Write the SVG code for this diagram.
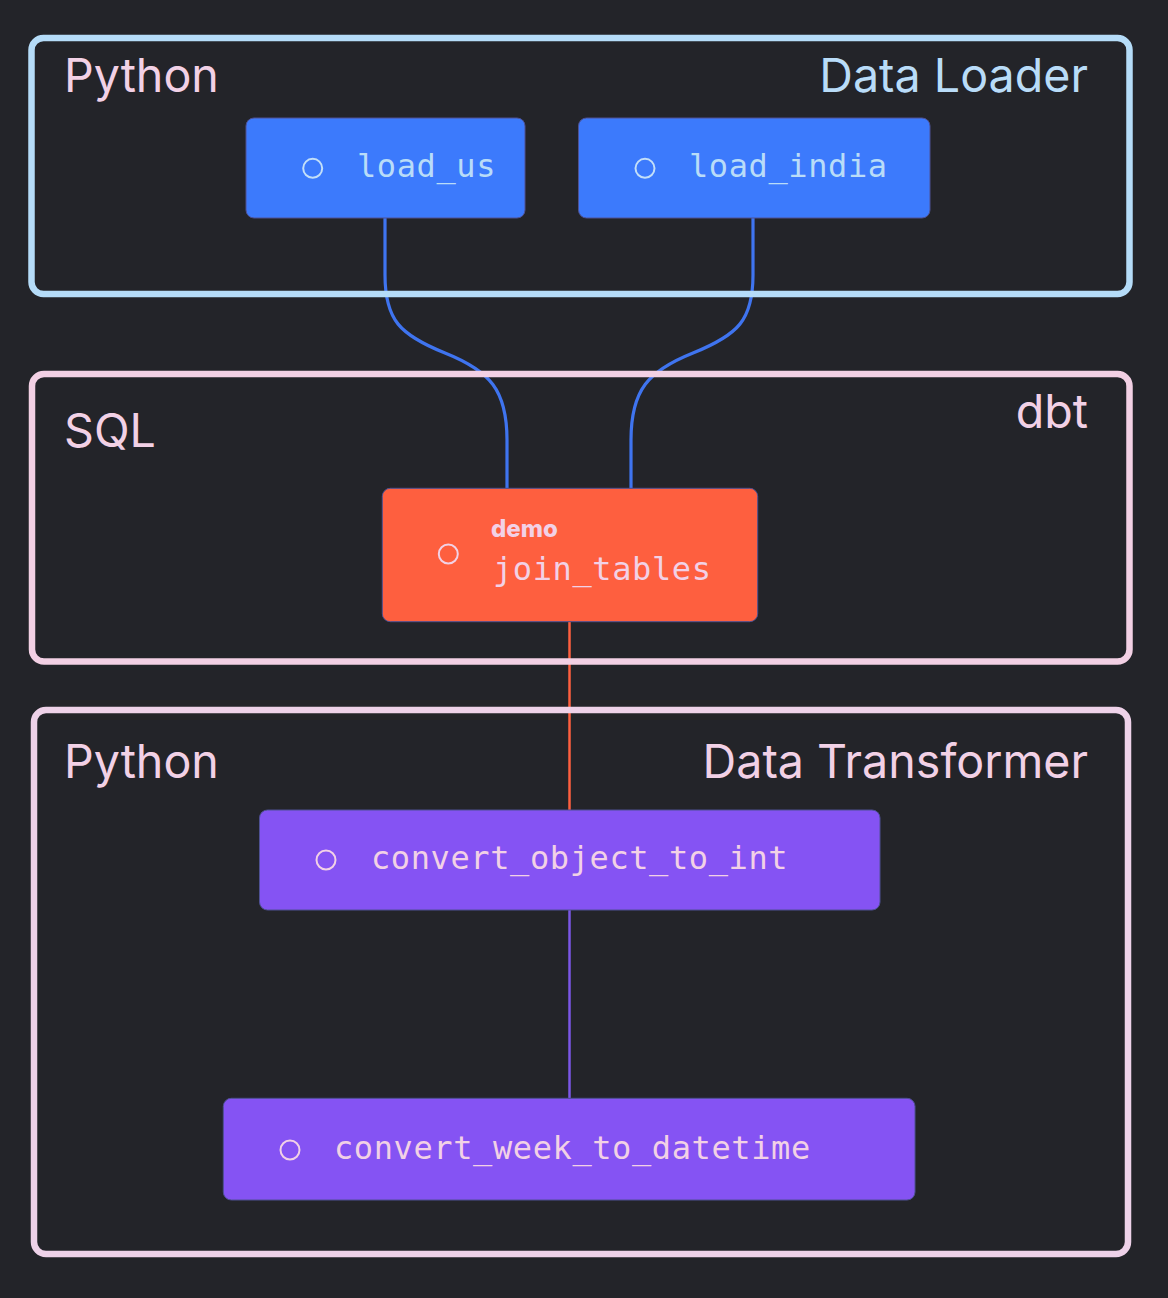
<svg xmlns="http://www.w3.org/2000/svg" width="1168" height="1298" viewBox="0 0 1168 1298">
<style>
.bg{fill:#232429}
.grp{fill:none;stroke-width:6.5}
.g-blue{stroke:#b5dcf8}
.g-pink{stroke:#f2d0e4}
.g-pink2{stroke:#eed2e9}
.title{font-family:Inter,"Noto Sans","Liberation Sans",sans-serif;font-size:46.6px}
.t-pink{fill:#f2d1e6}
.t-blue{fill:#b9dcf8}
.node{stroke:#4e5193;stroke-width:1}
.n-blue{fill:#3c7afc}
.n-orange{fill:#fe5f3f}
.n-purple{fill:#8553f3}
.icon{fill:none;stroke-width:2}
.lbl{font-family:"DejaVu Sans Mono","Liberation Mono",monospace;font-size:32px;letter-spacing:0.6px}
.tag{font-family:Inter,"Liberation Sans",sans-serif;font-size:24px;font-weight:800}
.edge{fill:none}
</style>
<rect class="bg" x="0" y="0" width="1168" height="1298"/>
<g id="connectors">
<path class="edge" d="M385,218 L385,275 C385,320 400,335 445,353 C490,371 507,390 507,440 L507,488" stroke="#3f74ef" stroke-width="3.2"/>
<path class="edge" d="M753,218 L753,275 C753,320 738,335 693,353 C648,371 631,390 631,440 L631,488" stroke="#3f74ef" stroke-width="3.2"/>
<path class="edge" d="M569.5,622 L569.5,810" stroke="#fe5f3f" stroke-width="2.5"/>
<path class="edge" d="M569.5,910 L569.5,1098" stroke="#7b56e6" stroke-width="2.5"/>
</g>
<g id="group-data-loader">
<rect class="grp g-blue" x="31.5" y="38" width="1098" height="256" rx="12"/>
<text class="title t-pink" x="64" y="92">Python</text>
<text class="title t-blue" x="1088" y="92" text-anchor="end">Data Loader</text>
</g>
<g id="group-dbt">
<rect class="grp g-pink" x="32" y="374" width="1097.5" height="287.5" rx="12"/>
<text class="title t-pink" x="64" y="447">SQL</text>
<text class="title t-pink" x="1088" y="428" text-anchor="end">dbt</text>
</g>
<g id="group-data-transformer">
<rect class="grp g-pink2" x="34" y="710" width="1094" height="544" rx="12"/>
<text class="title t-pink" x="64" y="778">Python</text>
<text class="title t-pink" x="1088" y="778" text-anchor="end">Data Transformer</text>
</g>
<g id="node-load_us">
<rect class="node n-blue" x="246" y="118" width="279" height="100" rx="8"/>
<circle class="icon" cx="312.7" cy="168.3" r="9.5" stroke="#c3dff8"/>
<text class="lbl t-blue" x="357" y="177">load_us</text>
</g>
<g id="node-load_india">
<rect class="node n-blue" x="578.5" y="118" width="351.5" height="100" rx="8"/>
<circle class="icon" cx="645" cy="168.3" r="9.5" stroke="#c3dff8"/>
<text class="lbl t-blue" x="689" y="177">load_india</text>
</g>
<g id="node-join_tables">
<rect class="node n-orange" x="382.3" y="488.3" width="375.4" height="133.4" rx="8"/>
<circle class="icon" cx="448.3" cy="554" r="9.5" stroke="#f2d1e6"/>
<text class="tag t-pink" x="491" y="537">demo</text>
<text class="lbl t-pink" x="493" y="580">join_tables</text>
</g>
<g id="node-convert_object_to_int">
<rect class="node n-purple" x="259.5" y="810" width="620.5" height="100" rx="8"/>
<circle class="icon" cx="326" cy="860" r="9.5" stroke="#f2d1e6"/>
<text class="lbl t-pink" x="371" y="869">convert_object_to_int</text>
</g>
<g id="node-convert_week_to_datetime">
<rect class="node n-purple" x="223.3" y="1098.3" width="691.7" height="101.7" rx="8"/>
<circle class="icon" cx="290" cy="1150" r="9.5" stroke="#f2d1e6"/>
<text class="lbl t-pink" x="334" y="1159">convert_week_to_datetime</text>
</g>
</svg>
